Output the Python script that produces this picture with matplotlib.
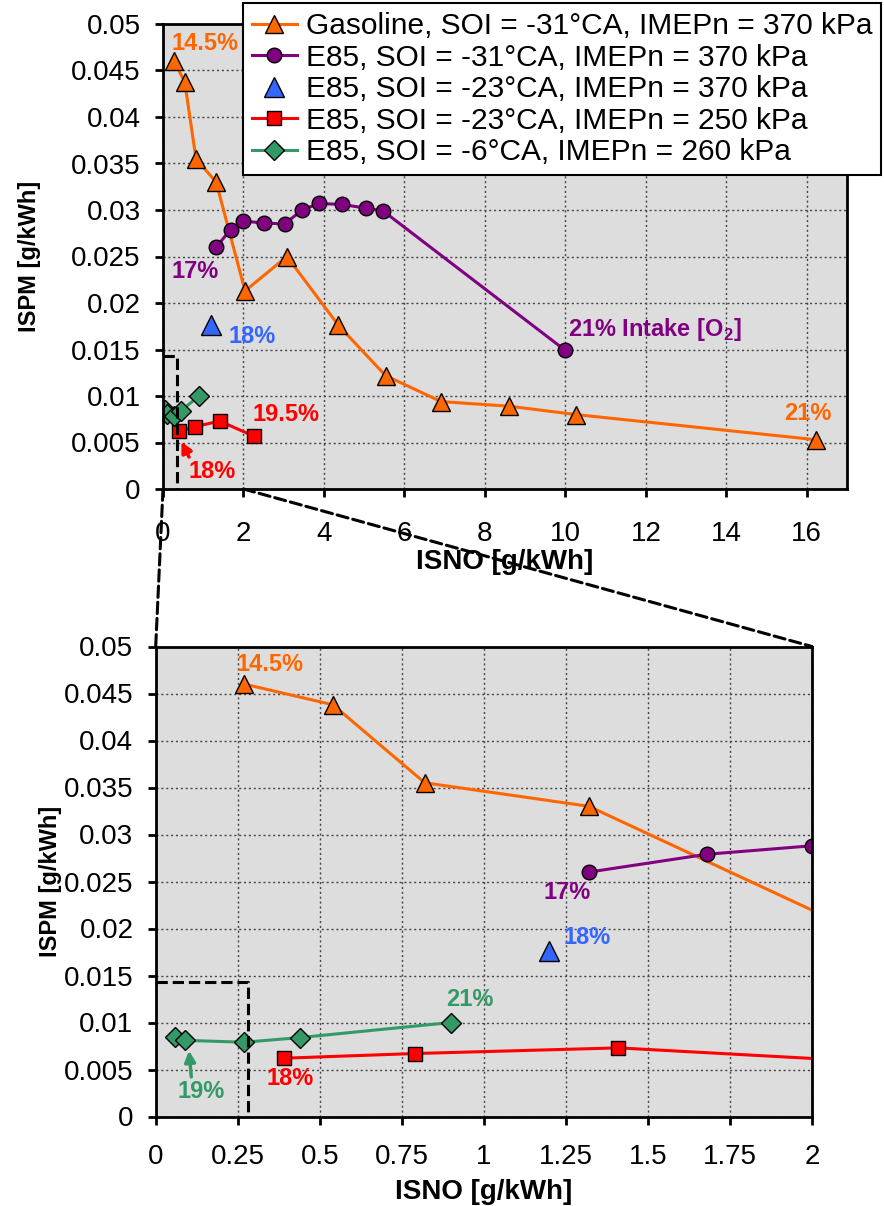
import numpy as np
import matplotlib
matplotlib.use('Agg')
import matplotlib.pyplot as plt
from matplotlib.patches import ConnectionPatch
from matplotlib.ticker import FormatStrFormatter, MultipleLocator

plt.rcParams['font.family'] = ['Liberation Sans', 'DejaVu Sans']
plt.rcParams['mathtext.fontset'] = 'custom'
plt.rcParams['mathtext.rm'] = 'Liberation Sans'
plt.rcParams['mathtext.bf'] = 'Liberation Sans:bold'

# ── data: ISNO [g/kWh] vs ISPM [g/kWh] ─────────────────────
gas_x = [0.27, 0.54, 0.82, 1.32, 2.04, 3.08, 4.36, 5.53, 6.91, 8.61, 10.27, 16.22]
gas_y = [0.0460, 0.0438, 0.0355, 0.0330, 0.0213, 0.0250, 0.0176, 0.0122, 0.0094, 0.0089, 0.0080, 0.0053]

e85_31_x = [1.32, 1.68, 2.00, 2.52, 3.02, 3.46, 3.87, 4.45, 5.04, 5.47, 10.0]
e85_31_y = [0.0260, 0.0279, 0.0288, 0.0286, 0.0285, 0.0300, 0.0307, 0.0306, 0.0302, 0.0299, 0.0149]

e85_23_370_x = [1.20]
e85_23_370_y = [0.0176]

e85_23_250_x = [0.39, 0.79, 1.41, 2.25]
e85_23_250_y = [0.0062, 0.0067, 0.0073, 0.0057]

e85_6_x = [0.06, 0.09, 0.27, 0.44, 0.90]
e85_6_y = [0.0085, 0.0081, 0.0079, 0.0084, 0.0100]

labels = ['Gasoline, SOI = -31°CA, IMEPn = 370 kPa',
          'E85, SOI = -31°CA, IMEPn = 370 kPa',
          'E85, SOI = -23°CA, IMEPn = 370 kPa',
          'E85, SOI = -23°CA, IMEPn = 250 kPa',
          'E85, SOI = -6°CA, IMEPn = 260 kPa']

ORANGE = '#FF6600'
PURPLE = '#800080'
BLUE = '#3366FF'
RED = '#FF0000'
GREEN = '#339966'

fig = plt.figure(figsize=(8.84, 12.06), dpi=100)
ax1 = fig.add_axes([163 / 884, 1 - 489 / 1206, 684 / 884, 465 / 1206])
ax2 = fig.add_axes([155.7 / 884, 1 - 1116.5 / 1206, 656.3 / 884, 470 / 1206])


def draw_series(ax):
    hs = []
    hs += ax.plot(gas_x, gas_y, '-^', color=ORANGE, lw=2.2, ms=13, mfc=ORANGE, mec='black', mew=1)
    hs += ax.plot(e85_31_x, e85_31_y, '-o', color=PURPLE, lw=2.2, ms=10.5, mfc=PURPLE, mec='black', mew=1)
    hs += ax.plot(e85_23_370_x, e85_23_370_y, '^', color=BLUE, ms=14, mfc=BLUE, mec='black', mew=1)
    hs += ax.plot(e85_23_250_x, e85_23_250_y, '-s', color=RED, lw=2.2, ms=10.5, mfc=RED, mec='black', mew=1)
    hs += ax.plot(e85_6_x, e85_6_y, '-D', color=GREEN, lw=2.2, ms=10, mfc=GREEN, mec='black', mew=1)
    return hs


def style_axes(ax, xmax, xstep, xpad):
    ax.set_facecolor('#DDDDDD')
    ax.set_xlim(0, xmax)
    ax.set_ylim(0, 0.05)
    ax.xaxis.set_major_locator(MultipleLocator(xstep))
    ax.yaxis.set_major_locator(MultipleLocator(0.005))
    ax.xaxis.set_major_formatter(FormatStrFormatter('%g'))
    ax.yaxis.set_major_formatter(FormatStrFormatter('%g'))
    ax.grid(True, ls=(0, (1.5, 2)), color='#444444', lw=1)
    ax.set_axisbelow(True)
    for s in ax.spines.values():
        s.set_linewidth(2)
        s.set_color('black')
    ax.tick_params(axis='both', direction='out', length=6, width=2, labelsize=20)
    ax.tick_params(axis='x', pad=xpad)
    ax.tick_params(axis='y', pad=10)
    ax.set_xlabel('ISNO [g/kWh]', fontsize=20, fontweight='bold')
    ax.set_ylabel('ISPM [g/kWh]', fontsize=17, fontweight='bold')


# ── top: full range ──
handles = draw_series(ax1)
style_axes(ax1, 17, 2, 17)
ax1.xaxis.set_label_coords(0.5, -0.13)
ax1.yaxis.set_label_coords(-0.178, 0.5)
ax1.plot([0, 0.35, 0.35], [0.0143, 0.0143, 0], ls='--', color='black', lw=2.2, clip_on=False)

tkw = dict(fontsize=17, fontweight='bold', va='center')
ax1.text(0.2, 0.0479, '14.5%', color=ORANGE, ha='left', **tkw)
ax1.text(0.81, 0.0234, '17%', color=PURPLE, ha='center', **tkw)
ax1.text(1.64, 0.01645, '18%', color=BLUE, ha='left', **tkw)
ax1.text(3.06, 0.0080, '19.5%', color=RED, ha='center', **tkw)
ax1.text(10.07, 0.0172, r'21% Intake [O$_\mathbf{2}$]', color=PURPLE, ha='left', **tkw)
ax1.text(16.02, 0.0081, '21%', color=ORANGE, ha='center', **tkw)
ax1.annotate('18%', xy=(0.46, 0.0051), xytext=(1.21, 0.0019), color=RED, ha='center',
             arrowprops=dict(arrowstyle='-|>', color=RED, lw=2.5, mutation_scale=16,
                             shrinkA=0, shrinkB=0,
                             relpos=(0.05, 1.0)), **tkw)

# ── bottom: zoom on low ISNO ──
draw_series(ax2)
style_axes(ax2, 2, 0.25, 14)
ax2.xaxis.set_label_coords(0.5, -0.134)
ax2.yaxis.set_label_coords(-0.143, 0.5)
ax2.plot([0, 0.28, 0.28], [0.0143, 0.0143, 0], ls='--', color='black', lw=2.2, clip_on=False)

ax2.text(0.247, 0.0481, '14.5%', color=ORANGE, ha='left', **tkw)
ax2.text(1.254, 0.0238, '17%', color=PURPLE, ha='center', **tkw)
ax2.text(1.316, 0.0190, '18%', color=BLUE, ha='center', **tkw)
ax2.text(0.958, 0.0124, '21%', color=GREEN, ha='center', **tkw)
ax2.text(0.41, 0.0040, '18%', color=RED, ha='center', **tkw)
ax2.annotate('19%', xy=(0.1015, 0.0070), xytext=(0.138, 0.0027), color=GREEN, ha='center',
             arrowprops=dict(arrowstyle='-|>', color=GREEN, lw=2.5, mutation_scale=16,
                             shrinkA=0, shrinkB=0,
                             relpos=(0.3, 1.0)), **tkw)

# dashed zoom connectors between the two panels
for xv in (0, 2):
    con = ConnectionPatch(xyA=(xv, 0), coordsA=ax1.transData,
                          xyB=(xv, 0.05), coordsB=ax2.transData,
                          ls='--', color='black', lw=2.2)
    fig.add_artist(con)

leg = fig.legend(handles, labels, loc='upper left', bbox_to_anchor=(243 / 884, 1 - 3 / 1206),
                 fontsize=21.5, frameon=True, fancybox=False, edgecolor='black', framealpha=1,
                 handlelength=1.5, handletextpad=0.3, labelspacing=0.12, borderpad=0.3,
                 borderaxespad=0)
leg.get_frame().set_linewidth(1.5)

fig.savefig('out.png', dpi=100)
